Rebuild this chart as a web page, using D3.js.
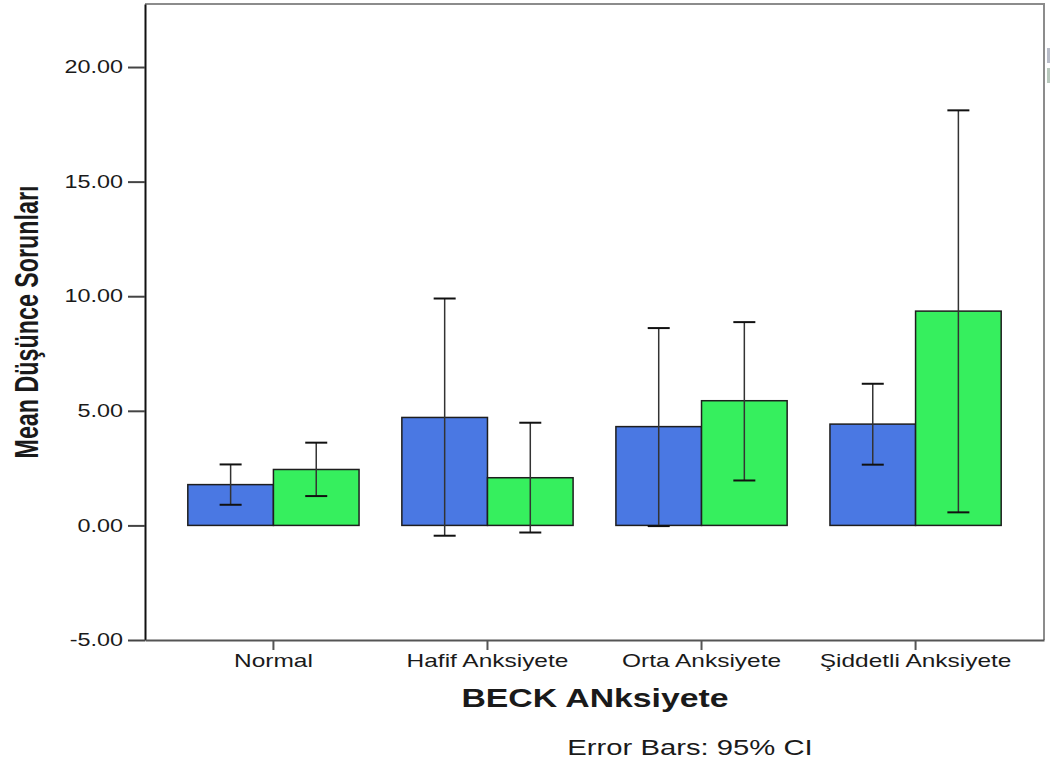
<!DOCTYPE html>
<html>
<head>
<meta charset="utf-8">
<script src="https://cdn.jsdelivr.net/npm/d3@7"></script>
<style>
    body { margin:0; background:#fff; }
    text { font-family:"Liberation Sans", Arial, sans-serif; fill:#1a1a1a; }
</style>
</head>
<body>
<svg id="chart"></svg>
<script>

// the data
var categories = ["Normal","Hafif Anksiyete","Orta Anksiyete","Şiddetli Anksiyete"]
var seriesNames = ["Grup 1","Grup 2"]
var seriesColors = ["#4a78e3","#36ef5e"]
var means1 = [1.78, 4.71, 4.31, 4.42]
var lower1 = [0.90, -0.45, -0.03, 2.65]
var upper1 = [2.66, 9.90, 8.61, 6.18]
var means2 = [2.44, 2.08, 5.44, 9.35]
var lower2 = [1.28, -0.31, 1.96, 0.57]
var upper2 = [3.61, 4.48, 8.87, 18.11]
var yTicks = [-5,0,5,10,15,20]

// picture text looks horizontally stretched
var stretch = 1.3

var buildRows = function()
{
    var rows = []
    categories.forEach(function(cat,i)
    {
        rows.push({cat:cat, s:0, mean:means1[i], lo:lower1[i], hi:upper1[i]})
        rows.push({cat:cat, s:1, mean:means2[i], lo:lower2[i], hi:upper2[i]})
    })
    return rows
}

var initGraph = function(target)
{
    var screen = {width:1050, height:765}
    var plot = {left:145, right:1044, top:4, bottom:640}

    var svg = d3.select(target)
        .attr("width",screen.width)
        .attr("height",screen.height)

    var xScale = d3.scaleBand()
        .domain(categories)
        .range([plot.left,plot.right])
        .paddingInner(.2)
        .paddingOuter(.2)

    var inner = d3.scaleBand()
        .domain([0,1])
        .range([0,xScale.bandwidth()])

    var yScale = d3.scaleLinear()
        .domain([-5,22.75])
        .range([plot.bottom,plot.top])

    var rows = buildRows()

    //frame top and right
    svg.append("path")
        .attr("d","M"+plot.left+","+plot.top+"H"+plot.right+"V"+plot.bottom)
        .attr("fill","none")
        .attr("stroke","#8c8c8c")
        .attr("stroke-width",2)

    //cut-off legend swatches on the right edge
    svg.selectAll(".legend")
        .data(seriesNames)
        .enter()
        .append("rect")
        .attr("x",1047)
        .attr("y",function(d,i){ return 48+i*20; })
        .attr("width",4)
        .attr("height",15)
        .attr("fill",function(d,i){ return i==0 ? "#b8bcc8" : "#b8c8bc"; })

    //bars
    svg.append("g")
        .selectAll("rect")
        .data(rows)
        .enter()
        .append("rect")
        .attr("x",function(d){ return xScale(d.cat)+inner(d.s); })
        .attr("y",function(d){ return yScale(Math.max(0,d.mean)); })
        .attr("width",inner.bandwidth())
        .attr("height",function(d){ return Math.abs(yScale(d.mean)-yScale(0)); })
        .attr("fill",function(d){ return seriesColors[d.s]; })
        .attr("stroke","#1e1e1e")
        .attr("stroke-width",1.5)

    //error bars
    var errs = svg.append("g")
        .selectAll("g")
        .data(rows)
        .enter()
        .append("g")
        .attr("transform",function(d)
        {
            return "translate("+(xScale(d.cat)+inner(d.s)+inner.bandwidth()/2)+",0)"
        })

    errs.append("line")
        .attr("y1",function(d){ return yScale(d.lo); })
        .attr("y2",function(d){ return yScale(d.hi); })
        .attr("stroke","#333")
        .attr("stroke-width",1.5)

    errs.selectAll(".cap")
        .data(function(d){ return [d.lo,d.hi]; })
        .enter()
        .append("line")
        .attr("x1",-11)
        .attr("x2",11)
        .attr("y1",function(v){ return yScale(v); })
        .attr("y2",function(v){ return yScale(v); })
        .attr("stroke","#111")
        .attr("stroke-width",2)

    //axes
    var yAxis = d3.axisLeft(yScale)
        .tickValues(yTicks)
        .tickFormat(function(d){ return d.toFixed(2); })
        .tickSize(17)
        .tickSizeOuter(0)
        .tickPadding(5)

    var gy = svg.append("g")
        .attr("transform","translate("+plot.left+",0)")
        .call(yAxis)
    gy.select(".domain").attr("stroke","#111").attr("stroke-width",2)
    gy.selectAll(".tick line").attr("stroke","#444").attr("stroke-width",2)
    gy.selectAll(".tick text")
        .attr("font-size",18)
        .attr("font-family",null)
        .attr("fill","#1a1a1a")
        .attr("x",-22/stretch)
        .attr("transform","scale("+stretch+",1)")

    var xAxis = d3.axisBottom(xScale)
        .tickSize(10)
        .tickSizeOuter(0)
        .tickPadding(4)

    var gx = svg.append("g")
        .attr("transform","translate(0,"+plot.bottom+")")
        .call(xAxis)
    gx.select(".domain").attr("stroke","#555").attr("stroke-width",2)
    gx.selectAll(".tick line").attr("stroke","#555").attr("stroke-width",2)
    gx.selectAll(".tick text")
        .attr("font-size",18)
        .attr("font-family",null)
        .attr("fill","#1a1a1a")
        .attr("transform","scale(1.36,1)")

    //labels
    svg.append("text")
        .text("BECK ANksiyete")
        .attr("font-size",26)
        .attr("font-weight","bold")
        .attr("text-anchor","middle")
        .attr("transform","translate(595,707) scale("+stretch+",1)")

    svg.append("text")
        .text("Error Bars: 95% CI")
        .attr("font-size",22)
        .attr("text-anchor","middle")
        .attr("transform","translate(690,755) scale(1.33,1)")

    svg.append("text")
        .text("Mean Düşünce Sorunları")
        .attr("font-size",24)
        .attr("font-weight","bold")
        .attr("text-anchor","middle")
        .attr("textLength",273)
        .attr("lengthAdjust","spacingAndGlyphs")
        .attr("transform","translate(38,322) scale(1.4,1) rotate(-90)")
}

initGraph("#chart")

</script>
</body>
</html>
